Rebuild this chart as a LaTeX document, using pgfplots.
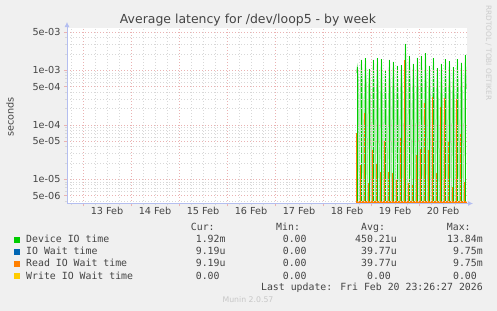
\documentclass[border=0pt]{standalone}
\usepackage{fontspec}
\setmainfont{DejaVu Sans}
\newfontfamily\monof{DejaVu Sans Mono}
\usepackage{pgfplots}
\pgfplotsset{compat=1.18}
\usepackage{pgfplotstable}
\usetikzlibrary{arrows.meta}

\definecolor{bg}{HTML}{F0F0F0}
\definecolor{majgrid}{HTML}{EAB2B2}
\definecolor{mingrid}{HTML}{D8D8D8}
\definecolor{axcol}{HTML}{B4BEF0}
\definecolor{txt}{HTML}{444444}
\definecolor{devg}{HTML}{00CC00}
\definecolor{iob}{HTML}{0066B3}
\definecolor{rdo}{HTML}{FF8000}
\definecolor{wry}{HTML}{FFCC00}

% x = hours since 12 Feb 00:00
\pgfplotstableread{
x dev pk rd
160.7 9e-4 nan 7.1e-5
161.2 1.16e-3 1.16e-3 4e-6
161.7 7e-4 nan 4e-6
162.2 1e-6 nan 4e-6
162.7 5e-4 nan 1.83e-5
163.2 1.55e-3 1.55e-3 4e-6
163.7 6e-4 nan 4e-6
164.2 1e-6 nan 4e-6
164.7 3e-4 nan 1.65e-4
165.2 1.66e-3 1.66e-3 4e-6
165.7 5e-4 nan 4e-6
166.2 1e-6 nan 4e-6
166.7 4e-4 nan 8.4e-6
167.2 1.06e-3 1.06e-3 4e-6
167.7 3e-4 nan 4e-6
168.2 1e-6 nan 4e-6
168.7 2.5e-4 nan 3.45e-5
169.2 1.55e-3 1.55e-3 4e-6
169.7 4e-4 nan 4e-6
170.2 1e-6 nan 4e-6
170.7 3e-4 nan 1.95e-5
171.2 1.66e-3 1.66e-3 4e-6
171.7 3.5e-4 nan 4e-6
172.2 1e-6 nan 4e-6
172.7 2e-4 nan 1.38e-5
173.2 1.61e-3 1.61e-3 4e-6
173.7 3e-4 nan 4e-6
174.2 1e-6 nan 4e-6
174.7 2.5e-4 nan 5.0e-5
175.2 1.0e-3 1.0e-3 4e-6
175.7 2.5e-4 nan 4e-6
176.2 1e-6 nan 4e-6
176.7 2e-4 nan 1.38e-5
177.2 1.55e-3 1.55e-3 4e-6
177.7 4e-4 nan 4e-6
178.2 1e-6 nan 4e-6
178.7 3e-4 nan 1.32e-5
179.2 1.42e-3 1.42e-3 4e-6
179.7 3e-4 nan 4e-6
180.2 1e-6 nan 4e-6
180.7 2e-4 nan 9.7e-6
181.2 1.2e-3 1.2e-3 4e-6
181.7 2.5e-4 nan 4e-6
182.2 1e-6 nan 4e-6
182.7 3e-4 nan 6.0e-5
183.2 1.25e-3 1.25e-3 4e-6
183.7 3.5e-4 nan 4e-6
184.2 1e-6 nan 4e-6
184.7 2.5e-4 nan 1.55e-3
185.2 3.04e-3 3.04e-3 4e-6
185.7 8e-4 nan 4e-6
186.2 1e-6 nan 4e-6
186.7 4e-4 nan 8.6e-6
187.2 1.83e-3 1.83e-3 4e-6
187.7 4.5e-4 nan 4e-6
188.2 1e-6 nan 4e-6
188.7 3e-4 nan 7.9e-6
189.2 1.31e-3 1.31e-3 4e-6
189.7 3e-4 nan 4e-6
190.2 1e-6 nan 4e-6
190.7 2.5e-4 nan 2.8e-5
191.2 1.69e-3 1.69e-3 4e-6
191.7 4e-4 nan 4e-6
192.2 1e-6 nan 4e-6
192.7 3e-4 nan 3.6e-5
193.2 1.83e-3 1.83e-3 4e-6
193.7 4.5e-4 nan 4e-6
194.2 1e-6 nan 4e-6
194.7 3.5e-4 nan 2.5e-4
195.2 2.05e-3 2.05e-3 4e-6
195.7 5e-4 nan 4e-6
196.2 1e-6 nan 4e-6
196.7 3e-4 nan 3.4e-5
197.2 1.2e-3 1.2e-3 4e-6
197.7 3e-4 nan 4e-6
198.2 1e-6 nan 4e-6
198.7 2e-4 nan 3.24e-4
199.2 1.66e-3 1.66e-3 4e-6
199.7 4e-4 nan 4e-6
200.2 1e-6 nan 4e-6
200.7 3e-4 nan 1.3e-5
201.2 1.09e-3 1.09e-3 4e-6
201.7 2.5e-4 nan 4e-6
202.2 1e-6 nan 4e-6
202.7 2e-4 nan 2.1e-4
203.2 1.31e-3 1.31e-3 4e-6
203.7 3e-4 nan 4e-6
204.2 1e-6 nan 4e-6
204.7 2.5e-4 nan 3.06e-4
205.2 1.61e-3 1.61e-3 4e-6
205.7 4e-4 nan 4e-6
206.2 1e-6 nan 4e-6
206.7 3e-4 nan 4.9e-5
207.2 1.48e-3 1.48e-3 4e-6
207.7 3.5e-4 nan 4e-6
208.2 1e-6 nan 4e-6
208.7 2.5e-4 nan 7.3e-6
209.2 1.14e-3 1.14e-3 4e-6
209.7 3e-4 nan 4e-6
210.2 1e-6 nan 4e-6
210.7 2e-4 nan 2.94e-4
211.2 1.61e-3 1.61e-3 4e-6
211.7 4e-4 nan 4e-6
212.2 1e-6 nan 4e-6
212.7 3e-4 nan 7.0e-5
213.2 1.38e-3 1.38e-3 4e-6
213.7 3.5e-4 nan 4e-6
214.2 1e-6 nan 4e-6
214.7 2.5e-4 nan 8.9e-6
215.2 1.91e-3 1.91e-3 4e-6
215.7 4.5e-4 nan 4e-6
}\latdata

\begin{document}
\begin{tikzpicture}
\fill[bg] (0,0) rectangle (497bp,311bp);
\begin{axis}[
  at={(67bp,107.5bp)}, anchor=south west,
  scale only axis, width=400bp, height=175.5bp,
  ymode=log, log origin y=infty,
  xmin=16, xmax=216, ymin=3.6e-6, ymax=5.97e-3,
  axis lines=left,
  axis line style={axcol, line width=0.8bp},
  x axis line style={-{Latex[length=5bp,width=5bp]}, shorten >=-6bp},
  y axis line style={-{Latex[length=5bp,width=5bp]}, shorten >=-6bp},
  axis background/.style={fill=white},
  axis on top,
  xtick={24,48,72,96,120,144,168,192},
  xticklabels={},
  extra x ticks={36,60,84,108,132,156,180,204},
  extra x tick labels={13 Feb,14 Feb,15 Feb,16 Feb,17 Feb,18 Feb,19 Feb,20 Feb},
  extra x tick style={grid=none, major tick length=0pt},
  minor xtick={18,30,36,42,54,60,66,78,84,90,102,108,114,126,132,138,150,156,162,174,180,186,198,204,210},
  ytick={5e-6,1e-5,5e-5,1e-4,5e-4,1e-3,5e-3},
  yticklabels={5e-06,1e-05,5e-05,1e-04,5e-04,1e-03,5e-03},
  minor ytick={4e-6,6e-6,7e-6,8e-6,9e-6,2e-5,3e-5,4e-5,6e-5,7e-5,8e-5,9e-5,2e-4,3e-4,4e-4,6e-4,7e-4,8e-4,9e-4,2e-3,3e-3,4e-3},
  grid=both,
  major grid style={majgrid, dash pattern=on 1bp off 2bp, line width=0.5bp},
  minor grid style={mingrid, dash pattern=on 1bp off 2bp, line width=0.5bp},
  tick align=outside,
  major tick length=3bp, minor tick length=2bp,
  major tick style={majgrid, line width=0.6bp},
  minor tick style={mingrid, line width=0.6bp},
  ticklabel style={font=\fontsize{9.7}{11}\selectfont, text=txt},
  unbounded coords=discard,
]
\addplot[devg, opacity=0.4, line width=1bp] table[x=x, y=dev] {\latdata};
\addplot[devg, ycomb, line width=0.9bp] table[x=x, y=pk] {\latdata};
\addplot[iob, ycomb, line width=0.9bp] table[x=x, y=rd] {\latdata};
\addplot[rdo, ycomb, line width=0.9bp] table[x=x, y=rd] {\latdata};
\end{axis}

% title and side texts
\node[anchor=base, inner sep=0, text=txt, font=\fontsize{12.5}{14}\selectfont] at (248bp,287.5bp) {Average latency for /dev/loop5 - by week};
\node[rotate=90, inner sep=0, text=txt, font=\fontsize{9.7}{11}\selectfont] at (10bp,194bp) {seconds};
\node[rotate=-90, anchor=west, inner sep=0, text=black!20, font=\fontsize{7.4}{9}\selectfont] at (488.5bp,306bp) {RRDTOOL / TOBI OETIKER};

% legend
\begin{scope}[every node/.style={inner sep=0, text=txt, font=\monof\fontsize{9.9}{11}\selectfont}]
\node[anchor=base west] at (190.7bp,80bp) {Cur:};
\node[anchor=base west] at (276bp,80bp) {Min:};
\node[anchor=base west] at (361bp,80bp) {Avg:};
\node[anchor=base west] at (446.7bp,80bp) {Max:};

\fill[devg] (14bp,68bp) rectangle (19.5bp,73.5bp);
\fill[iob] (14bp,56bp) rectangle (19.5bp,61.5bp);
\fill[rdo] (14bp,44bp) rectangle (19.5bp,49.5bp);
\fill[wry] (14bp,32bp) rectangle (19.5bp,37.5bp);

\node[anchor=base west] at (26bp,68bp) {Device IO time};
\node[anchor=base west] at (26bp,56bp) {IO Wait time};
\node[anchor=base west] at (26bp,44bp) {Read IO Wait time};
\node[anchor=base west] at (26bp,32bp) {Write IO Wait time};

\node[anchor=base east] at (225.7bp,68bp) {1.92m};
\node[anchor=base east] at (312.7bp,68bp) {0.00\phantom{0}};
\node[anchor=base east] at (397bp,68bp) {450.21u};
\node[anchor=base east] at (483bp,68bp) {13.84m};

\node[anchor=base east] at (225.7bp,56bp) {9.19u};
\node[anchor=base east] at (312.7bp,56bp) {0.00\phantom{0}};
\node[anchor=base east] at (397bp,56bp) {39.77u};
\node[anchor=base east] at (483bp,56bp) {9.75m};

\node[anchor=base east] at (225.7bp,44bp) {9.19u};
\node[anchor=base east] at (312.7bp,44bp) {0.00\phantom{0}};
\node[anchor=base east] at (397bp,44bp) {39.77u};
\node[anchor=base east] at (483bp,44bp) {9.75m};

\node[anchor=base east] at (225.7bp,32bp) {0.00\phantom{0}};
\node[anchor=base east] at (312.7bp,32bp) {0.00\phantom{0}};
\node[anchor=base east] at (397bp,32bp) {0.00\phantom{0}};
\node[anchor=base east] at (483bp,32bp) {0.00\phantom{0}};

\node[anchor=base east] at (483bp,20.7bp) {Last update: Fri Feb 20 23:26:27 2026};
\end{scope}
\node[anchor=base, inner sep=0, text=black!22, font=\fontsize{7.8}{9}\selectfont] at (248bp,8.7bp) {Munin 2.0.57};

\pgfresetboundingbox
\path (0,0) rectangle (497bp,311bp);
\end{tikzpicture}
\end{document}
